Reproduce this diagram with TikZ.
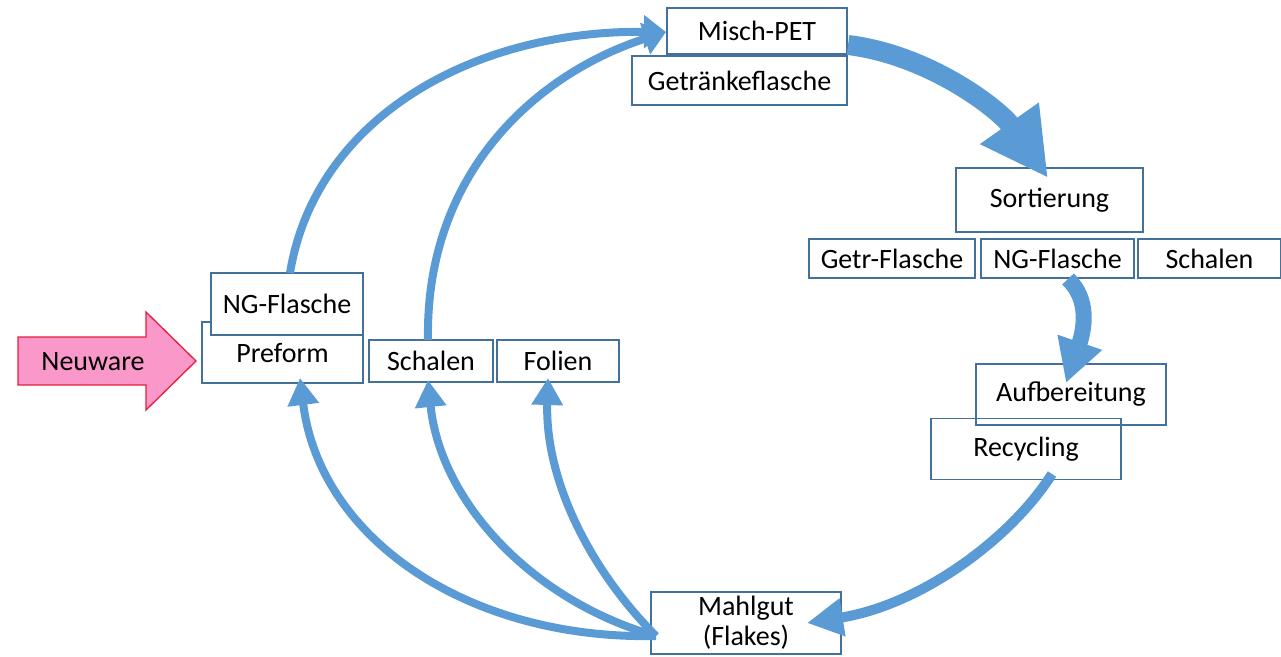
\documentclass[tikz,border=0pt]{standalone}
\usepackage{fontspec}
\setmainfont{Carlito}
\usetikzlibrary{arrows.meta}
\definecolor{boxline}{RGB}{65,113,156}
\definecolor{flow}{RGB}{91,155,213}
\definecolor{neufill}{RGB}{250,152,202}
\definecolor{neuline}{RGB}{228,30,60}
\begin{document}
\begin{tikzpicture}[x=1pt,y=-1pt,
  stage/.style={draw=boxline, line width=1.3pt, fill=white, inner sep=0pt,
    font=\fontsize{28}{30}\selectfont, align=center},
  openstage/.style={stage, fill=none},
  thinflow/.style={draw=flow, line width=8pt, -{Triangle[width=30pt,length=27pt]}},
  topflow/.style={draw=flow, line width=8pt, -{Triangle[width=32pt,length=22pt]}}
]
\useasboundingbox (0,0) rectangle (1281,656);

% incoming virgin material
\fill[neufill, draw=neuline, line width=1.3pt]
  (18,337) -- (146,337) -- (146,312) -- (196,361) -- (146,410) -- (146,385) -- (18,385) -- cycle;
\node[font=\fontsize{28}{30}\selectfont] (neuware) at (93,362) {Neuware};

% top of the cycle
\node[stage, minimum width=180pt, minimum height=46pt] (mischpet) at (757,31) {Misch-PET};
\node[stage, minimum width=215pt, minimum height=49pt] (getraenke) at (739.5,80.5) {Getränkeflasche};

% sorting
\node[stage, minimum width=187pt, minimum height=64pt] (sort) at (1049.5,200) {Sortierung};
\node[stage, minimum width=166pt, minimum height=39pt] (getr) at (892,258.5) {Getr-Flasche};
\node[stage, minimum width=153pt, minimum height=39pt] (ngr) at (1057.5,258.5) {NG-Flasche};
\node[stage, minimum width=143pt, minimum height=39pt] (schr) at (1209.5,258.5) {Schalen};

% processing
\node[openstage, minimum width=190pt, minimum height=61pt] (aufb) at (1071,394.5) {Aufbereitung};
\node[openstage, minimum width=190pt, minimum height=61pt] (recyc) at (1026,449) {Recycling};

% regrind
\node[stage, minimum width=190pt, minimum height=62pt] (mahlgut) at (746,623) {Mahlgut\\(Flakes)};

% products
\node[stage, minimum width=161pt, minimum height=61pt] (preform) at (282.5,352.5) {Preform};
\node[stage, minimum width=152pt, minimum height=62pt] (ngl) at (287,304) {NG-Flasche};
\node[stage, minimum width=124pt, minimum height=42pt] (schl) at (431,361) {Schalen};
\node[stage, minimum width=122pt, minimum height=42pt] (folien) at (558,361) {Folien};

% anchor points on the boxes
\coordinate (ngltop) at (290,273);
\coordinate (schltop) at (428,340);
\coordinate (mischin) at (666,32);
\coordinate (mischout) at (848,45);
\coordinate (sortin) at (1048,178);
\coordinate (ngrout) at (1068,279);
\coordinate (aufbin) at (1066,383);
\coordinate (recycout) at (1052,474);
\coordinate (mahlin) at (807,623);
\coordinate (mahlout) at (656,636);
\coordinate (prefin) at (300,378);
\coordinate (schlin) at (428,380);
\coordinate (folin) at (548,378);

% flows back to the bottle
\draw[topflow] (ngltop) .. controls (315,120) and (470,30) .. (mischin);
\draw[topflow] (schltop) .. controls (425,170) and (540,72) .. (mischin);

% main cycle
\draw[draw=flow, line width=20pt, -{Triangle[width=67pt,length=67pt]}]
  (mischout) .. controls (930,55) and (1000,110) .. (sortin);
\draw[draw=flow, line width=16pt, -{Triangle[width=44pt,length=43pt]}]
  (ngrout) .. controls (1090,300) and (1084,330) .. (aufbin);
\draw[draw=flow, line width=10pt, -{Triangle[width=36pt,length=36pt]}]
  (recycout) .. controls (1010,540) and (920,605) .. (mahlin);

% regrind into new products
\draw[thinflow] (mahlout) .. controls (470,640) and (320,540) .. (prefin);
\draw[thinflow] (mahlout) .. controls (530,600) and (440,500) .. (schlin);
\draw[thinflow] (mahlout) .. controls (590,570) and (545,480) .. (folin);
\end{tikzpicture}
\end{document}
